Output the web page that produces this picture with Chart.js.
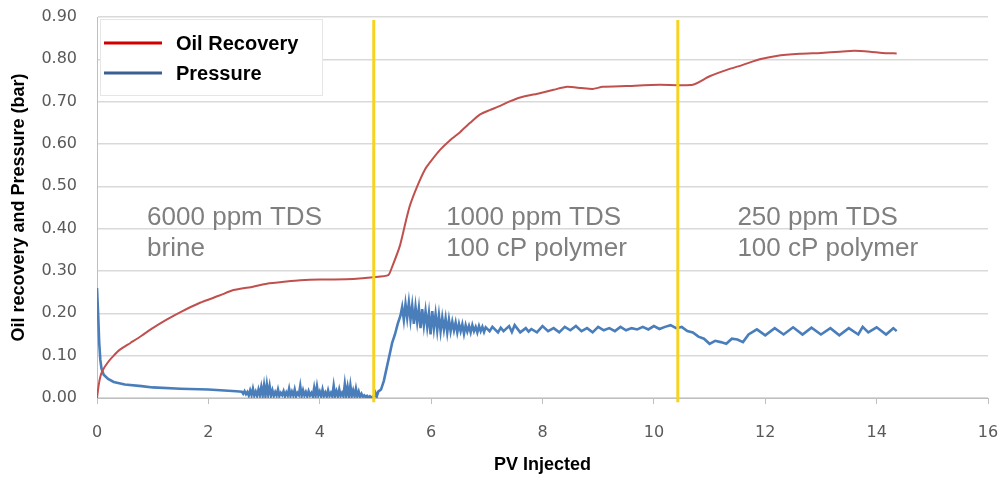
<!DOCTYPE html>
<html>
<head>
<meta charset="utf-8">
<script src="https://cdn.jsdelivr.net/npm/chart.js@4"></script>
<style>
    html, body { margin: 0; padding: 0; background: #ffffff; }
    #wrap { position: relative; width: 1002px; height: 480px; }
</style>
</head>
<body>
<div id="wrap"><canvas id="recoveryChart"></canvas></div>
<script>
// ============================================
// Oil recovery and pressure vs PV injected
// ============================================

// Oil recovery (red curve)
var oilX = [0, 0.03, 0.06, 0.1, 0.2, 0.3, 0.4, 0.6, 0.8, 1.0, 1.25, 1.5, 1.85, 2.2, 2.45, 2.8, 3.05, 3.4, 3.65, 4.0, 4.25, 4.6, 4.96, 5.23,
    5.3, 5.44, 5.55, 5.62, 5.75, 5.89, 6.0, 6.16, 6.35, 6.52, 6.7, 6.88, 7.05, 7.24, 7.4, 7.6, 7.95, 8.2, 8.44, 8.7, 8.9, 9.08, 9.5,
    10.1, 10.7, 11.0, 11.31, 11.6, 11.9, 12.2, 12.62, 13.0, 13.34, 13.6, 13.88, 14.1, 14.36];
var oilY = [0, 0.03, 0.05, 0.065, 0.085, 0.1, 0.113, 0.13, 0.147, 0.165, 0.185, 0.203, 0.225, 0.242, 0.255, 0.263, 0.27, 0.275, 0.278, 0.28, 0.28, 0.281, 0.285, 0.29,
    0.31, 0.36, 0.42, 0.455, 0.5, 0.54, 0.56, 0.586, 0.61, 0.628, 0.65, 0.67, 0.68, 0.69, 0.7, 0.71, 0.72, 0.728, 0.735, 0.732, 0.73, 0.735, 0.737,
    0.74, 0.74, 0.76, 0.775, 0.787, 0.8, 0.808, 0.813, 0.815, 0.818, 0.82, 0.818, 0.815, 0.814];

// Pressure (blue curve)
var presX = [0, 0.02, 0.04, 0.06, 0.08, 0.12, 0.2, 0.3, 0.5, 0.8, 1.0, 1.5, 2.0, 2.5,
    2.6, 2.625, 2.65, 2.675, 2.7, 2.725, 2.75, 2.775, 2.8, 2.825, 2.85, 2.875, 2.9, 2.925, 2.95, 2.975,
    3.0, 3.025, 3.05, 3.075, 3.1, 3.125, 3.15, 3.175, 3.2, 3.225, 3.25, 3.275, 3.3, 3.325, 3.35, 3.375,
    3.4, 3.425, 3.45, 3.475, 3.5, 3.525, 3.55, 3.575, 3.6, 3.625, 3.65, 3.675, 3.7, 3.725, 3.75, 3.775,
    3.8, 3.825, 3.85, 3.875, 3.9, 3.925, 3.95, 3.975, 4.0, 4.025, 4.05, 4.075, 4.1, 4.125, 4.15, 4.175,
    4.2, 4.225, 4.25, 4.275, 4.3, 4.325, 4.35, 4.375, 4.4, 4.425, 4.45, 4.475, 4.5, 4.525, 4.55, 4.575,
    4.6, 4.625, 4.65, 4.675, 4.7, 4.725, 4.75, 4.775, 4.8, 4.825, 4.85, 4.875, 4.9, 4.925, 4.95, 4.975,
    5.0, 5.025, 5.05, 5.1, 5.15, 5.2, 5.25, 5.3, 5.35, 5.4,
    5.45, 5.48, 5.51, 5.54, 5.57, 5.6, 5.63, 5.66, 5.69, 5.72, 5.75, 5.78, 5.81, 5.84, 5.87, 5.9, 5.93, 5.96, 5.99,
    6.02, 6.05, 6.08, 6.11, 6.14, 6.17, 6.2, 6.23, 6.26, 6.29, 6.32, 6.35, 6.38, 6.41, 6.44, 6.47, 6.5, 6.53, 6.56, 6.59,
    6.62, 6.65, 6.68, 6.71, 6.74, 6.77, 6.8, 6.83, 6.86, 6.89, 6.92, 6.95, 6.98,
    7.05, 7.1, 7.2, 7.25, 7.3, 7.4, 7.45, 7.5, 7.6, 7.7, 7.75, 7.8, 7.9, 8.0,
    8.1, 8.2, 8.3, 8.4, 8.5, 8.6, 8.7, 8.8, 8.9, 9.0, 9.1, 9.2, 9.3, 9.4, 9.5, 9.6, 9.7, 9.8, 9.9, 10.0, 10.1, 10.2, 10.3, 10.4, 10.5,
    10.6, 10.7, 10.8, 10.9, 11.0, 11.1, 11.2, 11.3, 11.4, 11.5, 11.6, 11.7, 11.85, 12.0, 12.17, 12.33, 12.5, 12.67, 12.83, 13.0, 13.17,
    13.33, 13.5, 13.67, 13.75, 13.85, 14.0, 14.17, 14.3, 14.36];
var presY = [0.26, 0.2, 0.13, 0.09, 0.07, 0.055, 0.045, 0.038, 0.032, 0.028, 0.025, 0.022, 0.02, 0.016,
    0.015, 0.010, 0.016, 0.009, 0.014, 0.006, 0.018, 0.007, 0.022, 0.006, 0.015, 0.005, 0.020, 0.007, 0.026, 0.006,
    0.030, 0.005, 0.032, 0.008, 0.028, 0.006, 0.018, 0.005, 0.014, 0.006, 0.020, 0.005, 0.012, 0.007, 0.016, 0.004,
    0.013, 0.006, 0.022, 0.005, 0.015, 0.006, 0.020, 0.004, 0.012, 0.007, 0.028, 0.005, 0.018, 0.006, 0.014, 0.004,
    0.016, 0.006, 0.012, 0.004, 0.024, 0.005, 0.027, 0.006, 0.015, 0.004, 0.020, 0.005, 0.013, 0.004, 0.018, 0.005,
    0.012, 0.004, 0.029, 0.005, 0.016, 0.004, 0.020, 0.005, 0.012, 0.004, 0.033, 0.006, 0.026, 0.004, 0.030, 0.005,
    0.018, 0.004, 0.022, 0.004, 0.015, 0.003, 0.010, 0.003, 0.006, 0.002, 0.005, 0.001, 0.004, 0.001, 0.003, 0.001,
    0.012, 0.004, 0.015, 0.02, 0.04, 0.07, 0.1, 0.13, 0.15, 0.175,
    0.195, 0.215, 0.185, 0.222, 0.19, 0.225, 0.185, 0.218, 0.175, 0.215, 0.18, 0.212, 0.165, 0.21, 0.172, 0.205, 0.168, 0.2, 0.15,
    0.205, 0.165, 0.198, 0.16, 0.195, 0.158, 0.19, 0.162, 0.188, 0.155, 0.185, 0.158, 0.18, 0.16, 0.178, 0.155, 0.175, 0.158, 0.174, 0.152,
    0.172, 0.157, 0.17, 0.155, 0.172, 0.158, 0.168, 0.155, 0.17, 0.158, 0.168, 0.156, 0.167,
    0.158, 0.168, 0.155, 0.166, 0.158, 0.17, 0.156, 0.172, 0.155, 0.165, 0.157, 0.163, 0.155, 0.17,
    0.158, 0.165, 0.155, 0.168, 0.16, 0.17, 0.158, 0.165, 0.155, 0.168, 0.16, 0.165, 0.158, 0.168, 0.16, 0.165, 0.162, 0.168, 0.162, 0.17, 0.163, 0.168, 0.172, 0.165, 0.168,
    0.158, 0.155, 0.145, 0.14, 0.128, 0.135, 0.132, 0.128, 0.14, 0.138, 0.132, 0.15, 0.162, 0.148, 0.165, 0.15, 0.167, 0.15, 0.166, 0.15, 0.165,
    0.148, 0.165, 0.15, 0.168, 0.155, 0.167, 0.15, 0.165, 0.158];

// Phase changes (yellow lines) and phase labels
var phaseBoundaries = [4.97, 10.43];
var phaseLabelX = [0.9, 6.27, 11.5];
var phaseLabelY = 0.425;
var phaseLabels = [
    ['6000 ppm TDS', 'brine'],
    ['1000 ppm TDS', '100 cP polymer'],
    ['250 ppm TDS', '100 cP polymer']
];

var xTicks = [0, 2, 4, 6, 8, 10, 12, 14, 16];
var yTicks = [0, 0.1, 0.2, 0.3, 0.4, 0.5, 0.6, 0.7, 0.8, 0.9];

var seriesNames = ['Oil Recovery', 'Pressure'];
var seriesColors = ['#c0504d', '#4a7ebb'];
var legendColors = ['#d00000', '#3a5f95'];

// Helper: zip x and y arrays into points
function toPoints(xs, ys) {
    var pts = [];
    for (var i = 0; i < xs.length; i++) {
        pts.push({x: xs[i], y: ys[i]});
    }
    return pts;
}

var datasets = [];

// Yellow phase lines
phaseBoundaries.forEach(function (b) {
    datasets.push({
        label: 'boundary',
        data: [{x: b, y: -0.01}, {x: b, y: 0.893}],
        borderColor: '#f7d21e',
        borderWidth: 3,
        pointRadius: 0,
        showLine: true,
        clip: false,
        order: 0
    });
});

datasets.push({
    label: seriesNames[0],
    data: toPoints(oilX, oilY),
    borderColor: seriesColors[0],
    borderWidth: 2,
    pointRadius: 0,
    showLine: true,
    tension: 0.2,
    order: 1
});

datasets.push({
    label: seriesNames[1],
    data: toPoints(presX, presY),
    borderColor: seriesColors[1],
    borderWidth: 2.6,
    pointRadius: 0,
    showLine: true,
    tension: 0,
    order: 2
});

// Plugin: phase labels and legend box
var overlayPlugin = {
    id: 'overlay',
    afterDatasetsDraw: function (chart) {
        var ctx = chart.ctx;
        var xs = chart.scales.x;
        var ys = chart.scales.y;
        ctx.save();

        // phase text
        ctx.fillStyle = '#7f7f7f';
        ctx.font = '26px "Liberation Sans", Arial, sans-serif';
        ctx.textAlign = 'left';
        ctx.textBaseline = 'middle';
        for (var i = 0; i < phaseLabels.length; i++) {
            var px = xs.getPixelForValue(phaseLabelX[i]);
            var py = ys.getPixelForValue(phaseLabelY);
            ctx.fillText(phaseLabels[i][0], px, py);
            ctx.fillText(phaseLabels[i][1], px, py + 31);
        }

        // legend box
        var area = chart.chartArea;
        var bx = area.left + 3, by = area.top + 2, bw = 222, bh = 76;
        ctx.fillStyle = '#ffffff';
        ctx.fillRect(bx, by, bw, bh);
        ctx.strokeStyle = '#e6e6e6';
        ctx.lineWidth = 1;
        ctx.strokeRect(bx + 0.5, by + 0.5, bw, bh);
        ctx.font = 'bold 20px "Liberation Sans", Arial, sans-serif';
        for (var j = 0; j < seriesNames.length; j++) {
            var ly = by + 24 + j * 30;
            ctx.strokeStyle = legendColors[j];
            ctx.lineWidth = 3;
            ctx.beginPath();
            ctx.moveTo(bx + 4, ly);
            ctx.lineTo(bx + 62, ly);
            ctx.stroke();
            ctx.fillStyle = '#000000';
            ctx.fillText(seriesNames[j], bx + 76, ly + 1);
        }
        ctx.restore();
    }
};

document.addEventListener('DOMContentLoaded', function () {
    var canvas = document.getElementById('recoveryChart');
    var ctx = canvas.getContext('2d');

    new Chart(ctx, {
        type: 'scatter',
        data: {datasets: datasets},
        options: {
            responsive: true,
            maintainAspectRatio: false,
            animation: false,
            layout: {padding: {top: 17, right: 14, left: 0, bottom: 0}},
            plugins: {
                legend: {display: false},
                tooltip: {enabled: false}
            },
            scales: {
                x: {
                    type: 'linear',
                    min: 0,
                    max: 16,
                    afterBuildTicks: function (scale) {
                        scale.ticks = xTicks.map(function (v) { return {value: v}; });
                    },
                    afterFit: function (scale) {
                        scale.height = 82;
                        scale.paddingLeft = 0;
                        scale.paddingRight = 0;
                    },
                    grid: {drawOnChartArea: false, drawTicks: true, tickLength: 6, color: '#bfbfbf'},
                    border: {color: '#bfbfbf'},
                    ticks: {
                        color: '#595959',
                        padding: 19,
                        maxRotation: 0,
                        font: {size: 16, family: '"DejaVu Sans", sans-serif'},
                        callback: function (v) { return String(v); }
                    },
                    title: {
                        display: true,
                        text: 'PV Injected',
                        color: '#000000',
                        padding: {top: 0, bottom: 4},
                        font: {size: 18, weight: 'bold', family: '"Liberation Sans", Arial, sans-serif'}
                    }
                },
                y: {
                    type: 'linear',
                    min: 0,
                    max: 0.9,
                    afterBuildTicks: function (scale) {
                        scale.ticks = yTicks.map(function (v) { return {value: v}; });
                    },
                    afterFit: function (scale) {
                        scale.width = 97;
                        scale.paddingTop = 0;
                        scale.paddingBottom = 0;
                    },
                    grid: {color: '#d9d9d9', lineWidth: 1.5, drawTicks: false},
                    border: {color: '#bfbfbf'},
                    ticks: {
                        color: '#595959',
                        padding: 20,
                        font: {size: 16, family: '"DejaVu Sans", sans-serif'},
                        callback: function (v) { return v.toFixed(2); }
                    },
                    title: {
                        display: true,
                        text: 'Oil recovery and Pressure (bar)',
                        color: '#000000',
                        padding: {top: 8, bottom: 4},
                        font: {size: 18, weight: 'bold', family: '"Liberation Sans", Arial, sans-serif'}
                    }
                }
            }
        },
        plugins: [overlayPlugin]
    });
});
</script>
</body>
</html>
